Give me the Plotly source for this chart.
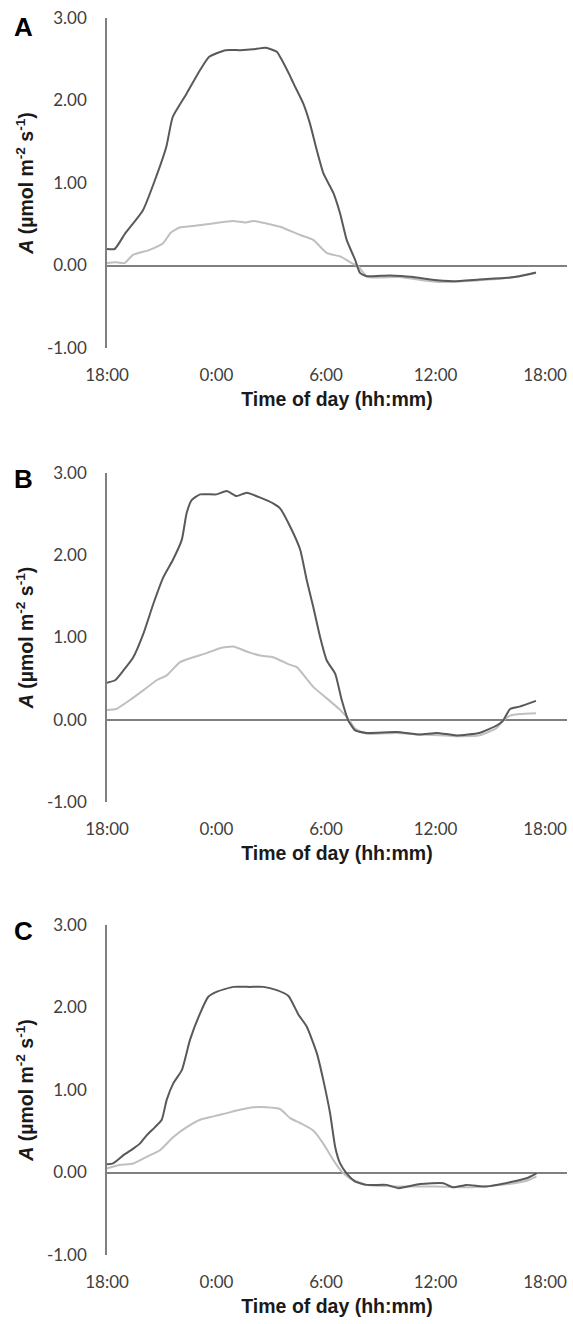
import plotly.graph_objects as go

# ---------------- data ----------------
tick_hours = [0, 6, 12, 18, 24]
tick_labels = ["18:00", "0:00", "6:00", "12:00", "18:00"]
y_ticks = [-1, 0, 1, 2, 3]
y_tick_labels = ["-1.00", "0.00", "1.00", "2.00", "3.00"]
panel_labels = ["A", "B", "C"]

# hours elapsed since 18:00, and A values (µmol m-2 s-1)
a_dark_h = [0, 0.42, 0.97, 1.97, 2.7, 3.25, 3.6, 4.35, 5.1, 5.6, 6.5, 7.3, 8.0, 8.7, 9.3, 9.48, 10.0,
            10.21, 10.76, 11.12, 11.49, 11.85, 12.4, 12.77, 13.13, 13.59, 13.86, 14.23, 15.5, 16.78,
            17.7, 18.97, 20.4, 21.9, 22.6, 23.5]
a_dark_v = [0.20, 0.20, 0.38, 0.67, 1.08, 1.44, 1.80, 2.08, 2.37, 2.53, 2.61, 2.61, 2.62, 2.64, 2.59, 2.53, 2.31,
            2.21, 1.96, 1.72, 1.40, 1.12, 0.88, 0.63, 0.31, 0.07, -0.09, -0.13, -0.12, -0.14,
            -0.17, -0.19, -0.17, -0.15, -0.13, -0.085]
a_light_h = [0, 0.42, 0.97, 1.42, 2.34, 3.07, 3.5, 3.98, 4.71, 5.8, 6.9, 7.6, 8.0, 8.73, 9.48, 10.58, 11.3,
             12.05, 12.77, 13.4, 13.77, 14.05, 14.3, 16.0, 17.7, 18.6, 20.4, 22.0, 23.5]
a_light_v = [0.03, 0.04, 0.03, 0.13, 0.19, 0.27, 0.40, 0.46, 0.48, 0.51, 0.54, 0.52, 0.54, 0.51, 0.47, 0.37, 0.31,
             0.15, 0.11, 0.03, -0.01, -0.09, -0.14, -0.14, -0.19, -0.20, -0.18, -0.15, -0.09]

b_dark_h = [0, 0.44, 0.9, 1.44, 2.0, 2.54, 3.1, 3.6, 4.1, 4.36, 4.64, 5.1, 6.0, 6.56, 7.1, 7.65, 8.4, 9.1,
            9.48, 10.03, 10.58, 10.94, 11.3, 11.67, 12.04, 12.5, 12.86, 13.22, 13.6, 14.23, 15.87, 17.15,
            18.06, 19.15, 20.4, 21.35, 21.7, 22.08, 22.6, 23.5]
b_dark_v = [0.45, 0.48, 0.60, 0.76, 1.05, 1.41, 1.74, 1.94, 2.19, 2.51, 2.67, 2.74, 2.74, 2.78, 2.72, 2.76, 2.70, 2.63,
            2.57, 2.35, 2.07, 1.70, 1.37, 1.01, 0.72, 0.56, 0.24, -0.01, -0.13, -0.16, -0.15, -0.18,
            -0.16, -0.19, -0.16, -0.07, -0.01, 0.13, 0.16, 0.23]
b_light_h = [0, 0.5, 1.26, 2.0, 2.72, 3.27, 4.0, 4.73, 5.46, 6.19, 6.92, 7.65, 8.38, 9.1, 10.0, 10.4, 11.3,
             12.04, 12.77, 13.22, 13.6, 14.23, 15.87, 17.15, 18.5, 19.15, 20.4, 21.35, 21.7, 22.08, 22.6, 23.5]
b_light_v = [0.12, 0.13, 0.24, 0.36, 0.48, 0.54, 0.70, 0.76, 0.81, 0.87, 0.89, 0.83, 0.78, 0.76, 0.67, 0.64, 0.40,
             0.26, 0.12, 0.01, -0.11, -0.17, -0.16, -0.18, -0.19, -0.20, -0.19, -0.10, -0.01, 0.05, 0.07, 0.08]

c_dark_h = [0, 0.33, 0.9, 1.44, 1.8, 2.17, 2.63, 3.0, 3.27, 3.63, 4.1, 4.55, 5.1, 5.55, 6.0, 6.92, 7.83, 8.57,
            9.3, 9.94, 10.5, 10.94, 11.49, 11.85, 12.22, 12.5, 12.77, 13.13, 13.6, 14.23, 15.33, 15.97,
            17.15, 18.43, 18.97, 19.7, 20.8, 22.26, 22.99, 23.53]
c_dark_v = [0.10, 0.11, 0.21, 0.29, 0.35, 0.45, 0.55, 0.64, 0.88, 1.08, 1.24, 1.61, 1.93, 2.13, 2.19, 2.25, 2.25, 2.25,
            2.21, 2.14, 1.91, 1.77, 1.45, 1.12, 0.72, 0.31, 0.11, -0.01, -0.11, -0.15, -0.15, -0.19,
            -0.14, -0.13, -0.18, -0.15, -0.17, -0.11, -0.07, -0.01]
c_light_h = [0, 0.7, 1.44, 2.17, 2.9, 3.63, 4.37, 5.1, 5.83, 6.56, 7.29, 8.0, 8.74, 9.47, 10.03, 10.58, 11.3,
             11.85, 12.4, 12.86, 13.31, 14.2, 16.0, 18.0, 20.0, 22.0, 23.0, 23.53]
c_light_v = [0.05, 0.09, 0.11, 0.19, 0.27, 0.43, 0.55, 0.64, 0.68, 0.72, 0.76, 0.79, 0.79, 0.77, 0.66, 0.60, 0.51,
             0.35, 0.15, 0.01, -0.07, -0.15, -0.17, -0.17, -0.18, -0.14, -0.10, -0.05]

panels = [
    (a_dark_h, a_dark_v, a_light_h, a_light_v),
    (b_dark_h, b_dark_v, b_light_h, b_light_v),
    (c_dark_h, c_dark_v, c_light_h, c_light_v),
]

# ---------------- styling ----------------
W, H = 573, 1324
DARK = "#595959"
LIGHT = "#bfbfbf"
AXIS = "#808080"
TICK_FONT = dict(family="Lato, Carlito, Arial", size=17, color="#404040")
TITLE_FONT = dict(family="Liberation Sans, Arial", size=19.5, color="#1a1a1a")
top_px = [18, 473, 925]
bot_px = [348, 802, 1255]
letter_y_px = [27, 479, 931]
left_px, right_px = 107, 567

fig = go.Figure()
for i, (dh, dv, lh, lv) in enumerate(panels):
    n = "" if i == 0 else str(i + 1)
    fig.add_trace(go.Scatter(x=lh, y=lv, mode="lines",
                             line=dict(color=LIGHT, width=2, shape="spline", smoothing=0.5),
                             xaxis="x" + n, yaxis="y" + n, showlegend=False, hoverinfo="skip"))
    fig.add_trace(go.Scatter(x=dh, y=dv, mode="lines",
                             line=dict(color=DARK, width=2, shape="spline", smoothing=0.5),
                             xaxis="x" + n, yaxis="y" + n, showlegend=False, hoverinfo="skip"))
    dom = [1 - bot_px[i] / H, 1 - top_px[i] / H]
    fig.layout["xaxis" + n] = dict(
        domain=[0, 1], range=[0, 25.2], anchor="y" + n,
        tickvals=tick_hours, ticktext=tick_labels, tickfont=TICK_FONT,
        showline=False, showgrid=False, zeroline=False, ticks="",
        ticklabelstandoff=15,
        title=dict(text="<b>Time of day (hh:mm)</b>", font=TITLE_FONT, standoff=8),
    )
    fig.layout["yaxis" + n] = dict(
        domain=dom, range=[-1, 3], anchor="x" + n,
        tickvals=y_ticks, ticktext=y_tick_labels, tickfont=TICK_FONT,
        showline=True, linecolor=AXIS, linewidth=1.5,
        showgrid=False, zeroline=True, zerolinecolor=AXIS, zerolinewidth=1.5,
        ticks="", ticklabelstandoff=15,
        title=dict(text="<b><i>A</i> (µmol m<sup>-2</sup> s<sup>-1</sup>)</b>", font=TITLE_FONT, standoff=8),
    )
    fig.add_annotation(text="<b>" + panel_labels[i] + "</b>", xref="paper", yref="paper",
                       x=(23.5 - left_px) / (right_px - left_px), y=1 - letter_y_px[i] / H,
                       showarrow=False, xanchor="center", yanchor="middle",
                       font=dict(family="Liberation Sans, Arial", size=26, color="#000000"))

fig.update_layout(
    width=W, height=H,
    margin=dict(l=left_px, r=W - right_px, t=0, b=0, autoexpand=False),
    plot_bgcolor="white", paper_bgcolor="white",
)

fig.write_html("out.html",
               config={"displayModeBar": False},
               post_script="document.body.style.margin='0';document.body.style.overflow='hidden';")
